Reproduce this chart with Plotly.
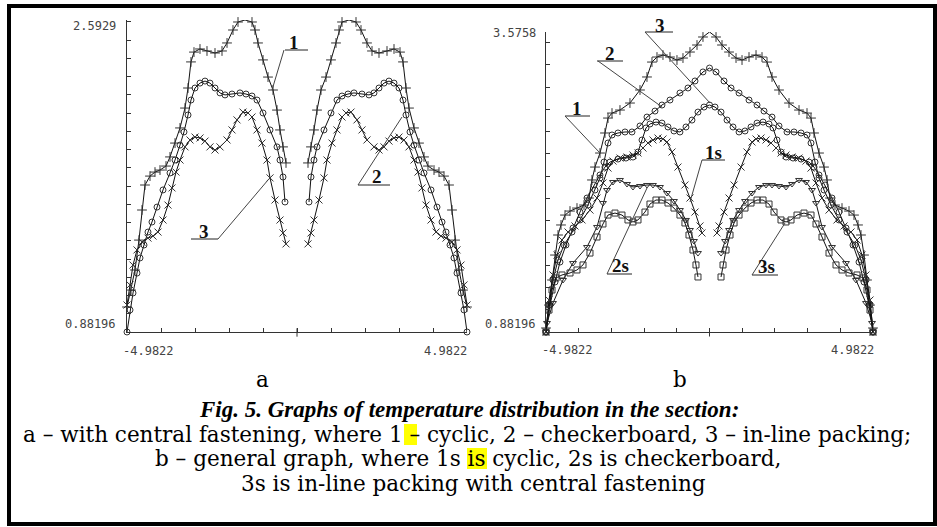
import plotly.graph_objects as go

W, H = 937, 527

# ---------------- data (left halves; every curve is symmetric about x = 0) -------------
# Panel a (central fastening): 1 - cyclic (+), 2 - checkerboard (o), 3 - in-line (x)
a1_x = [-4.982, -4.865, -4.748, -4.631, -4.543, -4.455, -4.308, -4.162, -4.015, -3.839, -3.722, -3.575,
        -3.429, -3.282, -3.194, -3.107, -3.019, -2.843, -2.638, -2.403, -2.198, -2.051, -1.876, -1.729,
        -1.524, -1.319, -1.231, -1.143, -0.996, -0.850, -0.703, -0.586, -0.498, -0.410, -0.322]
a1_y = [1.019, 1.112, 1.222, 1.386, 1.551, 1.688, 1.737, 1.759, 1.770, 1.792, 1.842, 1.918,
        2.001, 2.110, 2.220, 2.363, 2.417, 2.434, 2.423, 2.412, 2.423, 2.467, 2.538, 2.582,
        2.593, 2.582, 2.538, 2.467, 2.374, 2.280, 2.209, 2.099, 1.990, 1.897, 1.809]

a2_x = [-4.982, -4.894, -4.806, -4.689, -4.601, -4.484, -4.367, -4.250, -4.103, -3.927, -3.722, -3.575,
        -3.429, -3.312, -3.194, -3.107, -2.989, -2.843, -2.696, -2.550, -2.403, -2.257, -2.110, -1.905,
        -1.671, -1.495, -1.319, -1.172, -0.996, -0.791, -0.586, -0.498, -0.410, -0.352]
a2_y = [0.882, 1.003, 1.096, 1.205, 1.288, 1.359, 1.430, 1.485, 1.567, 1.661, 1.754, 1.825,
        1.907, 1.979, 2.072, 2.154, 2.220, 2.247, 2.258, 2.247, 2.220, 2.193, 2.182, 2.187,
        2.193, 2.187, 2.176, 2.154, 2.083, 1.990, 1.897, 1.825, 1.732, 1.595]

a3_x = [-4.982, -4.894, -4.806, -4.689, -4.543, -4.367, -4.220, -4.074, -3.927, -3.781, -3.663, -3.546,
        -3.429, -3.282, -3.136, -2.989, -2.843, -2.696, -2.550, -2.403, -2.257, -2.051, -1.905, -1.758,
        -1.583, -1.436, -1.319, -1.172, -1.026, -0.879, -0.791, -0.644, -0.498, -0.410, -0.322]
a3_y = [1.030, 1.140, 1.249, 1.332, 1.375, 1.397, 1.408, 1.430, 1.496, 1.578, 1.672, 1.759,
        1.825, 1.897, 1.935, 1.951, 1.946, 1.929, 1.897, 1.880, 1.897, 1.935, 1.990, 2.045,
        2.088, 2.083, 2.061, 1.990, 1.918, 1.825, 1.727, 1.606, 1.496, 1.425, 1.365]

# Panel b (general graph): 1, 2, 3 continuous; 1s (x), 2s (triangles), 3s (squares)
b1_x = [-4.982, -4.891, -4.799, -4.708, -4.616, -4.525, -4.403, -4.251, -4.038, -3.824, -3.672, -3.581,
        -3.489, -3.337, -3.185, -3.093, -2.971, -2.728, -2.423, -2.118, -1.905, -1.753, -1.600, -1.418,
        -1.204, -0.991, -0.808, -0.595, -0.381, -0.199, 0.0]
b1_y = [0.918, 1.124, 1.349, 1.573, 1.753, 1.843, 1.932, 1.968, 1.995, 2.022, 2.085, 2.247,
        2.363, 2.489, 2.669, 2.803, 2.848, 2.875, 2.938, 3.055, 3.172, 3.306, 3.351, 3.369,
        3.351, 3.324, 3.342, 3.396, 3.459, 3.531, 3.576]

b2_x = [-4.982, -4.891, -4.769, -4.616, -4.434, -4.190, -3.946, -3.702, -3.489, -3.337, -3.215, -3.093,
        -2.971, -2.789, -2.575, -2.362, -2.118, -1.905, -1.661, -1.448, -1.204, -0.900, -0.656, -0.442,
        -0.199, 0.0]
b2_y = [0.882, 1.124, 1.349, 1.528, 1.663, 1.780, 1.888, 2.022, 2.157, 2.265, 2.408, 2.579,
        2.651, 2.669, 2.678, 2.678, 2.732, 2.812, 2.866, 2.920, 2.965, 3.028, 3.073, 3.136,
        3.217, 3.252]

b3_x = [-4.982, -4.860, -4.708, -4.556, -4.373, -4.159, -3.946, -3.733, -3.520, -3.337, -3.185, -3.032,
        -2.789, -2.545, -2.332, -2.179, -2.057, -1.935, -1.814, -1.631, -1.448, -1.265, -1.082, -0.900,
        -0.717, -0.534, -0.351, -0.168, 0.0]
b3_y = [0.882, 1.124, 1.331, 1.510, 1.663, 1.816, 1.959, 2.085, 2.202, 2.292, 2.363, 2.408,
        2.435, 2.444, 2.453, 2.498, 2.606, 2.714, 2.750, 2.767, 2.758, 2.723, 2.687, 2.678,
        2.723, 2.785, 2.857, 2.902, 2.920]

b1s_x = [-4.982, -4.891, -4.769, -4.647, -4.495, -4.312, -4.099, -3.885, -3.642, -3.428, -3.246, -3.093,
         -2.941, -2.728, -2.514, -2.332, -2.179, -2.027, -1.875, -1.722, -1.570, -1.418, -1.296, -1.143,
         -0.961, -0.748, -0.595, -0.442, -0.290, -0.229]
b1s_y = [0.882, 1.169, 1.394, 1.573, 1.708, 1.780, 1.834, 1.888, 1.977, 2.085, 2.220, 2.354,
         2.417, 2.444, 2.453, 2.471, 2.489, 2.534, 2.579, 2.606, 2.624, 2.615, 2.588, 2.498,
         2.363, 2.202, 2.085, 1.959, 1.834, 1.771]

b2s_x = [-4.982, -4.952, -4.769, -4.464, -4.159, -3.733, -3.428, -3.246, -3.124, -2.941, -2.728, -2.514,
         -2.332, -2.118, -1.905, -1.722, -1.509, -1.296, -1.082, -0.900, -0.717, -0.595, -0.473, -0.351]
b2s_y = [0.882, 0.963, 1.142, 1.349, 1.501, 1.645, 1.825, 2.040, 2.157, 2.229, 2.247, 2.211,
         2.184, 2.193, 2.202, 2.202, 2.184, 2.130, 2.058, 1.977, 1.888, 1.798, 1.699, 1.591]

b3s_x = [-4.982, -4.891, -4.799, -4.677, -4.495, -4.251, -4.038, -3.855, -3.642, -3.428, -3.246, -3.093,
         -2.880, -2.667, -2.484, -2.332, -2.179, -1.966, -1.814, -1.631, -1.448, -1.265, -1.082, -0.900,
         -0.748, -0.625, -0.503, -0.412, -0.351]
b3s_y = [0.882, 1.079, 1.259, 1.367, 1.394, 1.412, 1.439, 1.484, 1.591, 1.735, 1.852, 1.932,
         1.950, 1.932, 1.888, 1.870, 1.888, 1.959, 2.031, 2.067, 2.067, 2.040, 1.995, 1.932,
         1.861, 1.753, 1.618, 1.484, 1.376]

# axis limits / tick labels
x_min, x_max = -4.9822, 4.9822
ya_min, ya_max = 0.88196, 2.5929
yb_min, yb_max = 0.88196, 3.5758
xtick_labels = ["-4.9822", "4.9822"]
ya_labels = ["0.88196", "2.5929"]
yb_labels = ["0.88196", "3.5758"]

caption_panels = ["a", "b"]
caption_title = "Fig. 5. Graphs of temperature distribution in the section:"
caption_lines = [
    "a – with central fastening, where 1 – cyclic, 2 – checkerboard, 3 – in-line packing;",
    "b – general graph, where 1s is cyclic, 2s is checkerboard,",
    "3s is in-line packing with central fastening",
]


# ---------------- helpers ----------------
def PX(x):
    return x / W


def PY(y):
    return 1 - y / H


def split_mirror(xs, ys):
    """left half, gap, mirrored right half"""
    rx = [-v for v in reversed(xs)]
    ry = list(reversed(ys))
    return xs + [None] + rx, ys + [None] + ry


def full_mirror(xs, ys):
    rx = [-v for v in reversed(xs[:-1])]
    ry = list(reversed(ys[:-1]))
    return xs + rx, ys + ry


fig = go.Figure()

LINE = dict(color="#111", width=1)


def add(xs, ys, sym, size, xa, ya, gap=True):
    if gap:
        X, Y = split_mirror(xs, ys)
    else:
        X, Y = full_mirror(xs, ys)
    fig.add_trace(go.Scatter(
        x=X, y=Y, mode="lines+markers", line=LINE, connectgaps=False,
        marker=dict(symbol=sym, size=size, color="#333", line=dict(color="#333", width=1)),
        xaxis=xa, yaxis=ya, cliponaxis=False, showlegend=False, hoverinfo="skip"))


add(a1_x, a1_y, "cross-thin", 7, "x", "y")
add(a2_x, a2_y, "circle-open", 6, "x", "y")
add(a3_x, a3_y, "x-thin", 7, "x", "y")

add(b1_x, b1_y, "cross-thin", 7, "x2", "y2", gap=False)
add(b2_x, b2_y, "circle-open", 6, "x2", "y2", gap=False)
add(b3_x, b3_y, "circle-open", 6, "x2", "y2", gap=False)
add(b1s_x, b1s_y, "x-thin", 7, "x2", "y2")
add(b2s_x, b2s_y, "triangle-down-open", 6, "x2", "y2")
add(b3s_x, b3s_y, "square-open", 6, "x2", "y2")

xt = [x_min + k * (x_max - x_min) / 10 for k in range(11)]
ya_t = [ya_min + 0.1 * k for k in range(18)] + [ya_max]
yb_t = [yb_min + 0.2 * k for k in range(14)] + [yb_max]

AX = dict(showline=True, linecolor="#333", linewidth=1, ticks="inside", ticklen=4,
          tickcolor="#333", showticklabels=False, showgrid=False, zeroline=False, fixedrange=True)

fig.update_layout(
    width=W, height=H, margin=dict(l=0, r=0, t=0, b=0),
    paper_bgcolor="white", plot_bgcolor="white",
    xaxis=dict(AX, domain=[PX(127), PX(467)], range=[x_min, x_max], tickvals=xt, anchor="y"),
    yaxis=dict(AX, domain=[PY(332), PY(20)], range=[ya_min, ya_max], tickvals=ya_t, anchor="x"),
    xaxis2=dict(AX, domain=[PX(546), PX(873)], range=[x_min, x_max], tickvals=xt, anchor="y2"),
    yaxis2=dict(AX, domain=[PY(332), PY(32)], range=[yb_min, yb_max], tickvals=yb_t, anchor="x2"),
)

shapes = []
annots = []

# outer frame
shapes.append(dict(type="rect", xref="paper", yref="paper", x0=PX(9), x1=PX(935), y0=PY(6), y1=PY(524),
                   line=dict(color="black", width=4)))

# centre tick crossing each x axis
for xr, yr in (("x", "y domain"), ("x2", "y2 domain")):
    shapes.append(dict(type="line", xref=xr, yref=yr, x0=0, x1=0, y0=-0.015, y1=0.012,
                       line=dict(color="#333", width=1)))

MONO = dict(family="DejaVu Sans Mono", size=12, color="#444")


def txt(x, y, s, font, xanchor="center", yanchor="middle"):
    annots.append(dict(xref="paper", yref="paper", x=PX(x), y=PY(y), text=s, showarrow=False,
                       font=font, xanchor=xanchor, yanchor=yanchor))


# tick labels
txt(118, 26, ya_labels[1], MONO, "right")
txt(118, 324, ya_labels[0], MONO, "right")
txt(121, 351, xtick_labels[0], MONO, "left")
txt(469, 351, xtick_labels[1], MONO, "right")
txt(538, 33, yb_labels[1], MONO, "right")
txt(538, 324, yb_labels[0], MONO, "right")
txt(540, 350, xtick_labels[0], MONO, "left")
txt(876, 350, xtick_labels[1], MONO, "right")

# curve labels with leader lines
LBL = dict(family="Liberation Serif", size=19, color="#111", weight="bold")


def leader(label, tx, ty, ux0, ux1, uy, lx0, ly0, lx1, ly1):
    txt(tx, ty, label, LBL)
    shapes.append(dict(type="line", xref="paper", yref="paper", x0=PX(ux0), x1=PX(ux1), y0=PY(uy), y1=PY(uy),
                       line=dict(color="#222", width=1)))
    shapes.append(dict(type="line", xref="paper", yref="paper", x0=PX(lx0), x1=PX(lx1), y0=PY(ly0), y1=PY(ly1),
                       line=dict(color="#444", width=1)))


leader("1", 294, 42, 285, 308, 50, 284, 50, 272, 90)
leader("2", 377, 176, 358, 390, 185, 358, 185, 402, 117)
leader("3", 204, 231, 191, 218, 239, 218, 239, 268, 180)

leader("1", 577, 108, 565, 590, 116, 565, 116, 600, 153)
leader("2", 610, 53, 597, 623, 61, 598, 61, 662, 107)
leader("3", 660, 25, 645, 673, 32, 645, 32, 710, 103)
leader("1s", 713, 152, 702, 725, 160, 702, 160, 690, 202)
leader("2s", 620, 265, 607, 632, 274, 607, 274, 647, 188)
leader("3s", 766, 266, 752, 778, 275, 752, 275, 785, 223)

# caption
SERIF = dict(family="DejaVu Serif", size=21.5, color="black")
txt(262, 379, caption_panels[0], SERIF)
txt(680, 379, caption_panels[1], SERIF)

# yellow highlights (behind text)
shapes.append(dict(type="rect", xref="paper", yref="paper", layer="below", x0=PX(404), x1=PX(417),
                   y0=PY(445), y1=PY(424), fillcolor="#ffff00", line=dict(width=0)))
shapes.append(dict(type="rect", xref="paper", yref="paper", layer="below", x0=PX(467), x1=PX(487),
                   y0=PY(469), y1=PY(448), fillcolor="#ffff00", line=dict(width=0)))

txt(469, 409, "<b><i>" + caption_title + "</i></b>",
    dict(family="Liberation Serif", size=23, color="black"))
txt(467, 434, caption_lines[0], SERIF)
txt(468, 458, caption_lines[1], SERIF)
txt(473, 483, caption_lines[2], SERIF)

fig.update_layout(shapes=shapes, annotations=annots)
fig.write_html("out.html")
